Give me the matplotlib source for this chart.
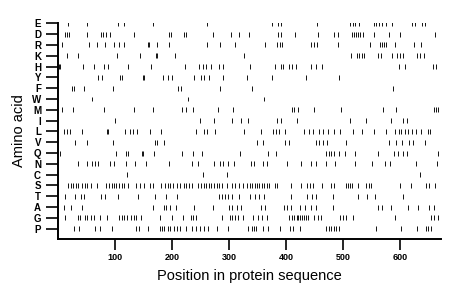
# amino acid positions along the protein sequence
import matplotlib
matplotlib.use("Agg")
import matplotlib.pyplot as plt

plt.rcParams['font.family'] = ['Liberation Sans', 'DejaVu Sans']

# rows from bottom to top
amino_acids = ["P", "G", "A", "T", "S", "C", "N", "Q", "V", "L",
               "I", "M", "W", "F", "Y", "H", "K", "R", "D", "E"]

E = [16, 50, 104, 115, 167, 261, 375, 386, 391, 455, 512, 518, 522, 529, 554, 559,
     563, 568, 575, 586, 621, 626, 640, 644]
D = [12, 15, 19, 51, 74, 78, 84, 90, 132, 194, 198, 220, 225, 272, 304, 318, 335,
     386, 391, 416, 456, 485, 491, 516, 519, 523, 526, 531, 535, 555, 582, 601, 662]
R = [6, 53, 67, 82, 98, 107, 115, 158, 160, 174, 195, 262, 284, 310, 363, 385, 389,
     393, 444, 449, 454, 492, 547, 565, 569, 572, 576, 592, 625, 637]
K = [15, 34, 103, 144, 171, 174, 205, 327, 514, 525, 529, 533, 537, 562, 567, 586,
     596, 600, 605, 630, 636, 642]
H = [1, 2, 44, 63, 80, 87, 122, 163, 222, 247, 255, 260, 268, 283, 289, 337, 380,
     391, 395, 406, 411, 418, 444, 453, 463, 598, 610, 658, 664]
Y = [70, 76, 108, 112, 148, 150, 184, 192, 200, 239, 250, 256, 264, 290, 331, 375,
     436, 493]
F = [23, 27, 45, 96, 211, 215, 284, 340, 588]
W = [59, 227, 362]
M = [6, 25, 80, 132, 166, 217, 224, 237, 280, 307, 410, 415, 421, 450, 496, 570,
     594, 660, 664, 668]
I = [100, 249, 274, 305, 321, 333, 385, 391, 420, 512, 541, 584, 606, 612]
L = [9, 15, 20, 41, 85, 88, 117, 126, 131, 139, 161, 180, 241, 256, 262, 276, 326,
     356, 378, 383, 388, 399, 432, 441, 447, 458, 466, 474, 485, 495, 517, 533, 555,
     576, 591, 598, 603, 609, 615, 622, 628, 637, 650, 654]
V = [30, 51, 96, 170, 174, 185, 349, 360, 399, 405, 452, 458, 465, 473, 506, 582,
     594, 604, 617, 623, 644]
Q = [3, 101, 119, 123, 147, 149, 168, 218, 236, 252, 319, 368, 382, 471, 475, 479,
     485, 494, 503, 522, 561, 590, 597, 605, 613, 668]
N = [35, 50, 59, 64, 70, 91, 97, 118, 134, 154, 195, 234, 245, 274, 284, 290, 298,
     309, 338, 344, 360, 367, 402, 427, 444, 453, 471, 487, 522, 551, 574, 583, 629,
     665]
C = [120, 255, 296, 635]
S = [17, 22, 26, 31, 35, 41, 46, 51, 57, 67, 84, 89, 94, 98, 102, 107, 112, 115,
     122, 137, 143, 150, 161, 166, 181, 187, 192, 197, 202, 208, 214, 220, 225, 230,
     234, 246, 250, 256, 260, 265, 269, 274, 278, 283, 287, 296, 306, 311, 317, 324,
     331, 337, 341, 345, 349, 353, 358, 362, 367, 371, 380, 385, 408, 426, 437, 443,
     447, 463, 479, 484, 506, 509, 512, 516, 527, 541, 546, 550, 600, 620, 646, 652,
     662]
T = [12, 30, 40, 45, 75, 82, 105, 140, 170, 189, 208, 282, 287, 292, 298, 306, 317,
     337, 345, 352, 361, 409, 437, 445, 453, 483, 526, 542, 557, 606]
A = [9, 22, 41, 166, 186, 190, 197, 207, 239, 271, 299, 306, 314, 321, 356, 364,
     396, 402, 408, 424, 434, 444, 452, 482, 562, 569, 584, 614, 632, 652, 660]
G = [12, 34, 38, 47, 51, 58, 63, 73, 86, 107, 111, 115, 120, 127, 132, 136, 146,
     178, 200, 219, 233, 237, 241, 287, 302, 306, 310, 316, 325, 342, 350, 358, 366,
     406, 411, 415, 419, 422, 425, 428, 431, 435, 439, 450, 456, 462, 495, 500, 506,
     517, 591, 655, 661, 667]
P = [28, 36, 65, 73, 94, 137, 142, 158, 179, 182, 186, 192, 196, 203, 208, 214,
     225, 234, 242, 249, 256, 263, 278, 298, 334, 340, 344, 348, 360, 368, 390, 407,
     413, 424, 471, 475, 479, 484, 488, 493, 558, 602, 631, 646, 650, 655]

positions = [P, G, A, T, S, C, N, Q, V, L, I, M, W, F, Y, H, K, R, D, E]
seq_len = 672
x_ticks = [100, 200, 300, 400, 500, 600]

fig = plt.figure(figsize=(4.6, 2.99), dpi=100)
ax = fig.add_axes([0.127, 0.2007, 0.831, 0.723])

for row, pos in enumerate(positions):
    ax.vlines(pos, row - 0.23, row + 0.23, colors="#111111", linewidth=0.7)

ax.set_xlim(0, seq_len)
ax.set_ylim(-0.953, 19.05)
ax.set_yticks(range(len(amino_acids)))
ax.set_yticklabels(amino_acids)
ax.set_xticks(x_ticks)

ax.spines["top"].set_visible(False)
ax.spines["right"].set_visible(False)
ax.spines["left"].set_linewidth(1.4)
ax.spines["bottom"].set_linewidth(1.4)
ax.tick_params(axis="y", direction="out", length=8.5, width=1.2, pad=4,
               labelsize=7)
ax.tick_params(axis="x", direction="out", length=8, width=1.2, pad=2,
               labelsize=6.5)
for lab in ax.get_yticklabels() + ax.get_xticklabels():
    lab.set_fontweight("bold")

ax.set_xlabel("Position in protein sequence", fontsize=10.5, labelpad=5)
ax.set_ylabel("Amino acid", fontsize=10.5, labelpad=4)

fig.savefig("out.png", dpi=100)
